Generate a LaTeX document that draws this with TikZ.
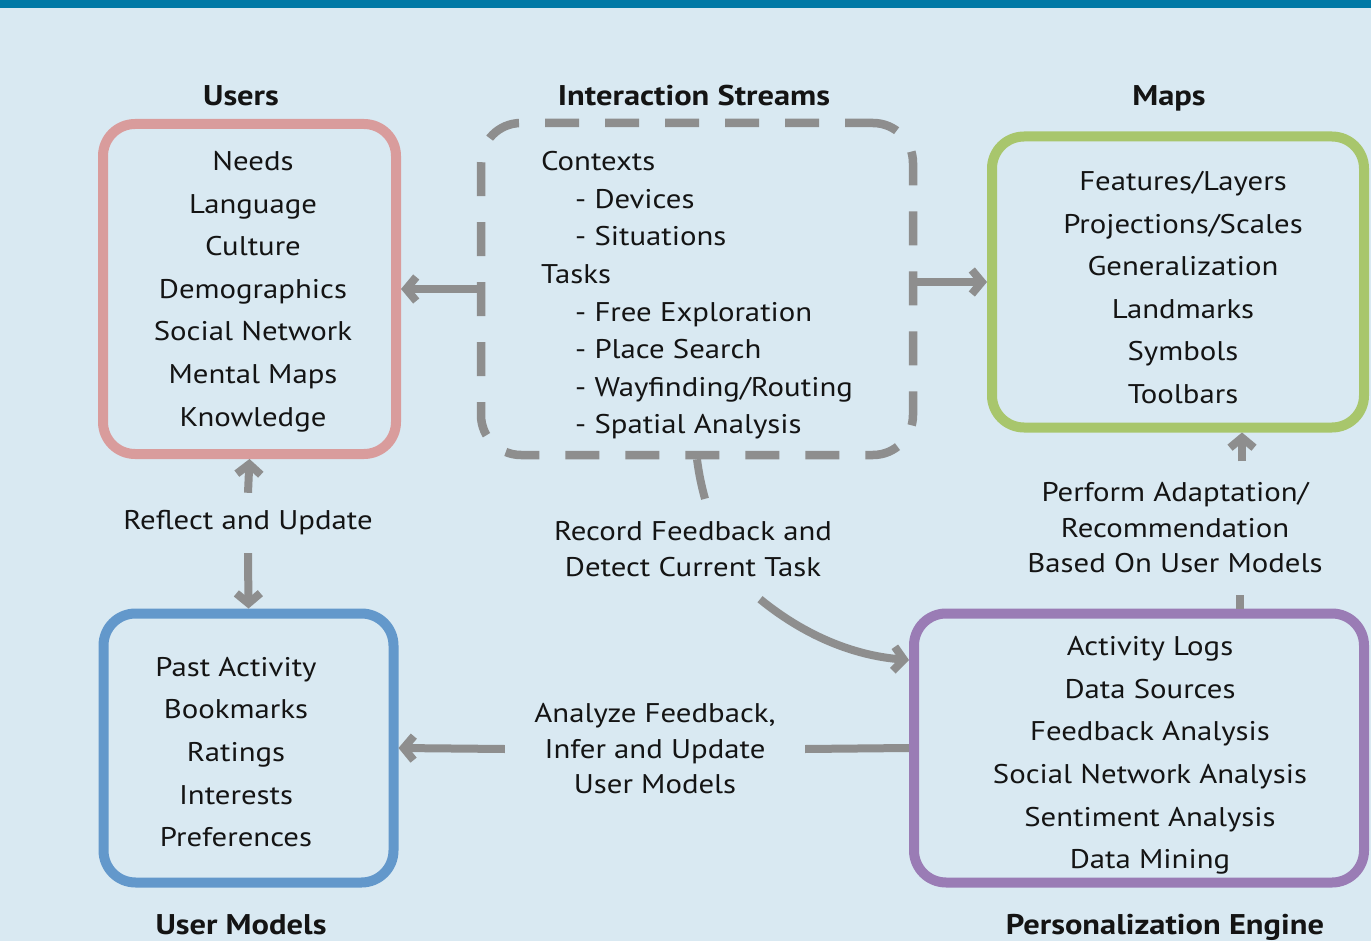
\documentclass[tikz,border=0pt]{standalone}
\usepackage{fontspec}
\setmainfont{PT Sans}[FakeStretch=1.14]
\usetikzlibrary{arrows.meta}
\definecolor{bg}{HTML}{D9E9F2}
\definecolor{band}{HTML}{0079A6}
\definecolor{cusers}{HTML}{D99C9C}
\definecolor{cmaps}{HTML}{A8C66C}
\definecolor{cmodels}{HTML}{6398CB}
\definecolor{cengine}{HTML}{9A7CB5}
\definecolor{cgray}{HTML}{8E8E8E}
\definecolor{ctext}{HTML}{141414}
\tikzset{
  box/.style={draw, line width=10pt, rounded corners=32pt, inner sep=0pt},
  items/.style={align=center, text=ctext, font=\fontsize{27}{42.6}\selectfont},
  title/.style={text=ctext, font=\fontsize{28.5}{32}\selectfont\bfseries, text height=20pt, text depth=6pt},
  lbl/.style={align=center, text=ctext, font=\fontsize{27}{35.5}\selectfont, inner sep=0pt},
  conn/.style={draw=cgray, line width=8pt},
  arr/.style={conn, -{Straight Barb[length=10pt, width=24pt]}},
}
\begin{document}
\begin{tikzpicture}[x=1pt, y=-1pt]
\useasboundingbox (0,0) rectangle (1371,941);
\fill[bg] (0,0) rectangle (1371,941);
\fill[band] (0,0) rectangle (1371,8);

% boxes
\node[box, draw=cusers, minimum width=293pt, minimum height=330pt] (users) at (249.5,289) {};
\node[box, draw=cmaps, minimum width=372pt, minimum height=291pt] (maps) at (1178,282) {};
\node[box, draw=cmodels, minimum width=290pt, minimum height=269pt] (umodels) at (248.5,748) {};
\node[box, draw=cengine, minimum width=450pt, minimum height=269pt] (pe) at (1139,748) {};
\node[draw=cgray, line width=8.5pt, dash pattern=on 34pt off 26pt, dash phase=6pt, rounded corners=40pt, minimum width=432pt, minimum height=332pt, inner sep=0pt] (stream) at (697,289) {};

% titles
\node[title] (tusers) at (241,99) {Users};
\node[title] (tstream) at (694,99) {Interaction Streams};
\node[title] (tmaps) at (1169,99) {Maps};
\node[title] (tmodels) at (241,927) {User Models};
\node[title] (tengine) at (1165,927) {Personalization Engine};

% contents
\node[items] (iusers) at (253,291.5) {Needs\\Language\\Culture\\Demographics\\Social Network\\Mental Maps\\Knowledge};
\node[items] (imaps) at (1183,287.5) {Features/Layers\\Projections/Scales\\Generalization\\Landmarks\\Symbols\\Toolbars};
\node[items] (imodels) at (236,752) {Past Activity\\Bookmarks\\Ratings\\Interests\\Preferences};
\node[items] (iengine) at (1150,755.5) {Activity Logs\\Data Sources\\Feedback Analysis\\Social Network Analysis\\Sentiment Analysis\\Data Mining};
\node[items, align=left, anchor=west, inner sep=0pt, font=\fontsize{27}{37.6}\selectfont] (istream) at (541,295.5) {Contexts\\\hspace{34pt}- Devices\\\hspace{34pt}- Situations\\Tasks\\\hspace{34pt}- Free Exploration\\\hspace{34pt}- Place Search\\\hspace{34pt}- Wayfinding/Routing\\\hspace{34pt}- Spatial Analysis};

% labels
\node[lbl, minimum height=60pt] (reflect) at (248,523) {Reflect and Update};
\node[lbl, minimum height=100pt] (record) at (693,549) {Record Feedback and\\Detect Current Task};
\node[lbl, minimum height=133pt] (perform) at (1175,528) {Perform Adaptation/\\Recommendation\\Based On User Models};
\node[lbl, minimum width=300pt] (analyze) at (655,749) {Analyze Feedback,\\Infer and Update\\User Models};

% connectors
\draw[arr] (stream.west) -- (users.east);
\draw[arr] (stream.east |- maps.west) -- (maps.west);
\draw[arr] (reflect.north) -- (users.south);
\draw[arr] (reflect.south) -- (umodels.north);
\draw[conn] (stream.south -| 697,0) .. controls (699,475) and (702,488) .. ([xshift=12pt]record.north);
\draw[arr] ([xshift=67pt]record.south) .. controls (810,640) and (860,656) .. (pe.west |- 0,660);
\draw[conn] (pe.north -| 1240,0) -- (perform.south -| 1240,0);
\draw[arr] (perform.north -| 1242,0) -- (maps.south -| 1242,0);
\draw[conn] (pe.west) -- (analyze.east);
\draw[arr] (analyze.west) -- (umodels.east);
\end{tikzpicture}
\end{document}
